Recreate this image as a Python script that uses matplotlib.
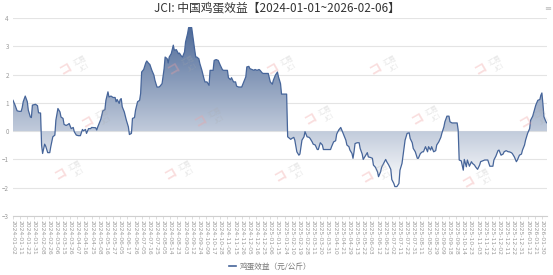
import numpy as np
import matplotlib.pyplot as plt
from matplotlib.colors import LinearSegmentedColormap
from matplotlib.lines import Line2D

plt.rcParams['font.family'] = ['Noto Sans CJK SC', 'DejaVu Sans']

# 交易日序号 (0 = 2024-01-02) 与 鸡蛋效益 (元/公斤)
day = [0, 2, 4, 6, 8, 9, 10, 12, 14, 15, 17, 18, 19, 22, 24, 25, 27, 28, 29,
       31, 32, 34, 36, 37, 39, 41, 42, 44, 46, 47, 49, 50, 52, 54, 55, 57, 59,
       60, 62, 64, 66, 68, 69, 71, 72, 74, 76, 77, 81, 82, 83, 85, 86, 88, 90,
       91, 93, 94, 96, 98, 100, 101, 102, 104, 105, 106, 107, 109, 111, 113,
       114, 116, 117, 119, 120, 122, 124, 125,
       126, 128, 130, 131, 133, 134, 136, 138, 139, 141, 143, 144, 146, 148,
       149, 151, 152, 153, 155, 157, 158, 160, 162, 163, 165, 166, 168, 169,
       171, 172, 174, 175, 176, 178, 179, 180, 182, 183, 185, 187, 188, 190,
       192, 193, 194, 196, 197, 199, 201, 203, 205, 206, 208, 210, 211, 213,
       214, 216, 218, 219, 221, 223, 224, 226, 228, 229, 231, 232, 234, 236,
       237, 239, 241, 242, 244, 245, 247, 249, 250, 252, 254, 255, 257, 259,
       260, 262, 263, 265, 267, 268,
       269, 272, 273, 275, 276, 278, 280, 281, 283, 285, 286, 288, 290, 291,
       293, 294, 296, 298, 299, 301, 303, 304, 306, 308, 309, 311, 312, 314,
       316, 317, 319, 321, 322, 324, 326, 327, 329, 330, 332, 333, 334, 335,
       337, 339, 340, 342, 343, 345, 347, 348, 350, 352, 353, 355, 357, 358,
       360, 361, 363, 365, 366, 368, 370, 371, 373, 374, 376, 378, 379, 381,
       383, 384, 386, 388, 389, 391, 392, 394, 396, 397, 399, 401, 402, 404,
       406, 407, 409, 410, 412, 414, 415, 417, 419, 420, 422, 423, 425, 427,
       428, 430, 432, 433, 435, 436, 437, 439, 441, 442, 444, 445, 447, 449,
       450, 452, 453, 455, 457, 458, 460, 462, 463, 465, 467, 468, 470, 471,
       473, 475, 476, 478, 480, 481, 483, 485, 486, 488, 489, 491, 493, 494,
       496, 498, 499, 501, 502, 504, 506, 507, 509, 511, 512, 514, 516, 517,
       518, 519, 520, 522, 523]

value = [1.09, 0.92, 0.72, 0.70, 0.70, 0.83, 1.04, 1.24, 1.04, 0.74, 0.50,
         0.48, 0.92, 0.95, 0.90, 0.65, 0.64, -0.50, -0.79,
         -0.46, -0.53, -0.76, -0.76, -0.55, -0.20, -0.14, 0.39, 0.80, 0.68,
         0.50, 0.45, 0.24, 0.20, 0.24, 0.27, 0.09, 0.13,
         -0.02, -0.14, -0.16, -0.16, 0.06, 0.01, 0.06, -0.08, 0.09, 0.09, 0.13,
         0.12, 0.04, 0.15, 0.33, 0.42, 0.72, 0.76,
         1.09, 1.39, 1.21, 1.24, 1.19, 1.19, 1.04, 1.12, 0.98, 1.12, 1.15, 0.86,
         0.68, 0.39, 0.15,
         -0.12, -0.08, 0.45, 0.48, 0.74, 1.04, 1.09, 1.33,
         2.09, 2.18, 2.41, 2.48, 2.39, 2.36, 2.15, 1.98, 1.80, 1.56, 1.56, 1.59,
         1.68, 2.21,
         2.62, 2.56, 2.41, 2.62, 2.74, 3.04, 2.86, 2.88, 2.74, 2.76, 2.65, 2.62,
         2.80, 3.15,
         3.45, 3.66, 3.66, 3.66, 3.39, 2.86, 2.62, 2.62, 2.56, 2.39, 2.15, 1.86,
         1.74, 1.74,
         1.62, 2.15, 2.15, 2.15, 2.50, 2.53, 2.50, 2.33, 2.18, 2.15, 2.15, 2.15,
         1.89, 1.82,
         1.89, 1.74, 1.74, 1.59, 1.56, 1.56, 1.56, 1.74, 1.92, 2.27, 2.29, 2.21,
         2.18, 2.15,
         2.18, 2.15, 2.18, 2.15, 2.06, 2.04, 2.04, 2.04, 2.04, 1.74, 1.66, 1.80,
         1.98, 2.09,
         1.92, 1.68, 1.31, 1.31, 1.31, 1.31,
         -0.20, -0.29, -0.26, -0.22, -0.32, -0.73, -0.85, -0.81, -0.32, -0.20,
         -0.02, -0.20, -0.22, -0.26,
         -0.38, -0.46, -0.49, -0.65, -0.65, -0.41, -0.49, -0.65, -0.65, -0.65,
         -0.65, -0.65, -0.55, -0.38,
         -0.34, -0.11, 0.04, 0.13, 0.04, -0.14, -0.32, -0.49, -0.55, -0.67,
         -0.79, -0.96, -0.73, -0.44,
         -0.41, -0.41, -0.61, -0.81, -1.00, -0.88, -0.76, -0.91, -0.93, -0.96,
         -1.20, -1.28, -1.44, -1.61,
         -1.44, -1.28, -1.14, -1.00, -1.08, -1.20, -1.35, -1.71, -1.85, -1.96,
         -1.96, -1.85, -1.38, -1.14,
         -0.61, -0.32, -0.08, -0.06, -0.26, -0.41, -0.61, -0.73, -0.96, -0.96,
         -0.79, -0.73, -0.73, -0.55,
         -0.73, -0.55, -0.67, -0.55, -0.73, -0.69, -0.49, -0.38, -0.22, -0.08,
         0.15, 0.33, 0.53, 0.53,
         0.33, 0.29, 0.29, 0.29, 0.29, 0.04, -1.02, -1.05, -1.38, -1.00, -1.26,
         -1.02, -1.24, -1.08,
         -1.14, -1.20, -1.26, -1.35, -1.20, -1.08, -1.05, -1.02, -1.02, -1.02,
         -1.24, -1.24, -1.24, -1.02,
         -0.88, -0.69, -0.67, -0.85, -0.81, -0.73, -0.69, -0.73, -0.73, -0.76,
         -0.79, -0.91, -1.08, -1.02,
         -0.85, -0.81, -0.67, -0.49, -0.32, -0.08, 0.09, 0.39, 0.53, 0.80, 0.92,
         1.09, 1.12, 1.27,
         1.35, 0.96, 0.51, 0.33, 0.29]

# x 轴标签，每 7 个交易日一个
tick_dates = [
    '2024-01-02', '2024-01-11', '2024-01-22', '2024-01-31', '2024-02-08',
    '2024-02-26', '2024-03-06', '2024-03-15', '2024-03-26', '2024-04-07',
    '2024-04-16', '2024-04-25', '2024-05-08', '2024-05-16', '2024-05-27',
    '2024-06-05', '2024-06-17', '2024-06-26', '2024-07-05', '2024-07-16',
    '2024-07-25', '2024-08-05', '2024-08-14', '2024-08-23', '2024-09-03',
    '2024-09-12', '2024-09-24', '2024-10-09', '2024-10-17', '2024-10-28',
    '2024-11-06', '2024-11-15', '2024-11-26', '2024-12-05', '2024-12-16',
    '2024-12-25', '2025-01-06', '2025-01-15', '2025-01-24', '2025-02-10',
    '2025-02-19', '2025-02-28', '2025-03-11', '2025-03-20', '2025-03-31',
    '2025-04-10', '2025-04-21', '2025-04-29', '2025-05-13', '2025-05-22',
    '2025-06-03', '2025-06-12', '2025-06-23', '2025-07-02', '2025-07-11',
    '2025-07-22', '2025-07-31', '2025-08-11', '2025-08-20', '2025-08-29',
    '2025-09-09', '2025-09-18', '2025-09-28', '2025-10-14', '2025-10-23',
    '2025-11-03', '2025-11-12', '2025-11-21', '2025-12-02', '2025-12-11',
    '2025-12-22', '2025-12-31', '2026-01-12', '2026-01-21', '2026-01-30']
tick_step = 7
last_day = 523

W, H = 553, 275
fig = plt.figure(figsize=(W / 100, H / 100), dpi=100)
ax = fig.add_axes([13 / W, 1 - 216 / H, 534 / W, 198 / H])

# 渐变填充 (上深下浅)
cmap = LinearSegmentedColormap.from_list('egg', ['#ffffff', '#4f6b99'])
grad = np.linspace(0, 1, 256).reshape(-1, 1)
im = ax.imshow(grad, extent=[0, last_day, min(value), max(value)], origin='lower',
               cmap=cmap, aspect='auto', zorder=1, interpolation='bilinear')
area = ax.fill_between(day, value, 0, color='none', lw=0)
im.set_clip_path(area.get_paths()[0], transform=ax.transData)

ax.plot(day, value, color='#46659a', lw=0.9, zorder=3, label='鸡蛋效益（元/公斤）')

ax.set_xlim(0, last_day)
ax.set_ylim(-3, 4)
ax.set_yticks(range(-3, 5))
ax.grid(axis='y', color='#e4e4e4', lw=0.8, zorder=0)
ax.set_axisbelow(True)
for s in ['top', 'right', 'left']:
    ax.spines[s].set_visible(False)
ax.spines['bottom'].set_color('#cfcfcf')
ax.spines['bottom'].set_linewidth(0.8)

ax.set_xticks(np.arange(len(tick_dates)) * tick_step)
ax.set_xticklabels(tick_dates, rotation=-90, fontsize=4.3, color='#999999',
                   family=['DejaVu Sans'])
ax.tick_params(axis='x', length=2, width=0.5, color='#cfcfcf', pad=1)
ax.tick_params(axis='y', length=0, labelsize=4.5, labelcolor='#999999', pad=3)

# 标题
fig.text(0.5, 1 - 8 / H, 'JCI: 中国鸡蛋效益【2024-01-01~2026-02-06】',
         ha='center', va='center', fontsize=8.5, color='#333333')
fig.text(548 / W, 1 - 8 / H, '≡', ha='center', va='center', fontsize=6,
         color='#bbbbbb', family=['DejaVu Sans'])

# 水印
marks = [(75, 65), (183, 65), (282, 65), (385, 65), (490, 65),
         (97, 118), (210, 117), (320, 115), (427, 115), (535, 118),
         (70, 170), (180, 170), (290, 172), (377, 173), (478, 178)]
for cx, cy in marks:
    fig.text((cx - 9) / W, 1 - (cy + 4) / H, 'コ', ha='center', va='center',
             fontsize=9, color='#f0a0a0', alpha=0.35, rotation=30, weight='bold')
    fig.text((cx + 5) / W, 1 - (cy - 4) / H, '汇易', ha='center', va='center',
             fontsize=5, color='#aaaaaa', alpha=0.3, rotation=30)
    fig.text((cx + 9) / W, 1 - (cy + 3) / H, 'JCI', ha='center', va='center',
             fontsize=5, color='#aaaaaa', alpha=0.3, rotation=30)

# 图例
handle = Line2D([], [], color='#46659a', lw=1.2)
fig.legend([handle], ['鸡蛋效益（元/公斤）'], loc='center',
           bbox_to_anchor=(270 / W, 8 / H), frameon=False, fontsize=5.5,
           handlelength=1.0, handletextpad=0.4, labelcolor='#777777')

fig.savefig('out.png', dpi=100)
